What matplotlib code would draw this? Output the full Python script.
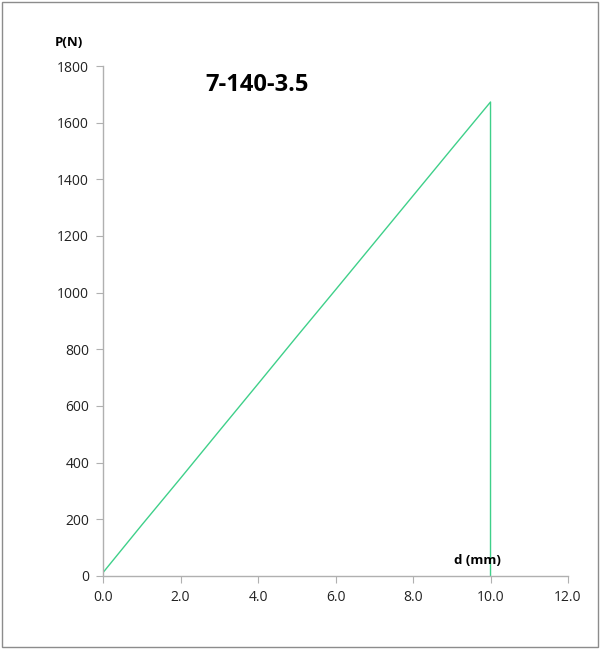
import matplotlib
matplotlib.use("Agg")
import matplotlib.pyplot as plt
from matplotlib.patches import Rectangle

d_mm = [0.0, 1.0, 2.0, 3.0, 4.0, 5.0, 6.0, 7.0, 8.0, 9.0, 10.0, 10.0]
p_n = [12, 180, 345, 512, 678, 845, 1010, 1176, 1342, 1508, 1673, 0]
x_ticks = [0.0, 2.0, 4.0, 6.0, 8.0, 10.0, 12.0]
y_ticks = [0, 200, 400, 600, 800, 1000, 1200, 1400, 1600, 1800]

plt.rcParams['font.family'] = ['Open Sans', 'DejaVu Sans']

fig = plt.figure(figsize=(6.0, 6.49), dpi=100)
fig.patches.append(Rectangle((0.004, 0.003), 0.992, 0.994, transform=fig.transFigure,
                             fill=False, edgecolor='#8c8c8c', linewidth=1.0))
ax = fig.add_axes([0.1717, 0.1125, 0.775, 0.7858])
ax.plot(d_mm, p_n, color='#3fd08a', linewidth=1.0)
ax.set_xlim(0, 12)
ax.set_ylim(0, 1800)
ax.set_xticks(x_ticks)
ax.set_xticklabels([f"{v:.1f}" for v in x_ticks])
ax.set_yticks(y_ticks)
for s in ['top', 'right']:
    ax.spines[s].set_visible(False)
for s in ['left', 'bottom']:
    ax.spines[s].set_color('#b0b0b0')
    ax.spines[s].set_linewidth(1.0)
ax.tick_params(direction='out', length=5, color='#b0b0b0', labelsize=10, labelcolor='#222222', pad=5)
fig.text(0.115, 0.935, "P(N)", fontsize=9.5, fontweight='bold', ha='center', va='center')
fig.text(0.796, 0.137, "d (mm)", fontsize=9.5, fontweight='bold', ha='center', va='center')
fig.text(0.428, 0.869, "7-140-3.5", fontsize=17, fontweight='bold', ha='center', va='center')
fig.savefig("out.png", dpi=100)
